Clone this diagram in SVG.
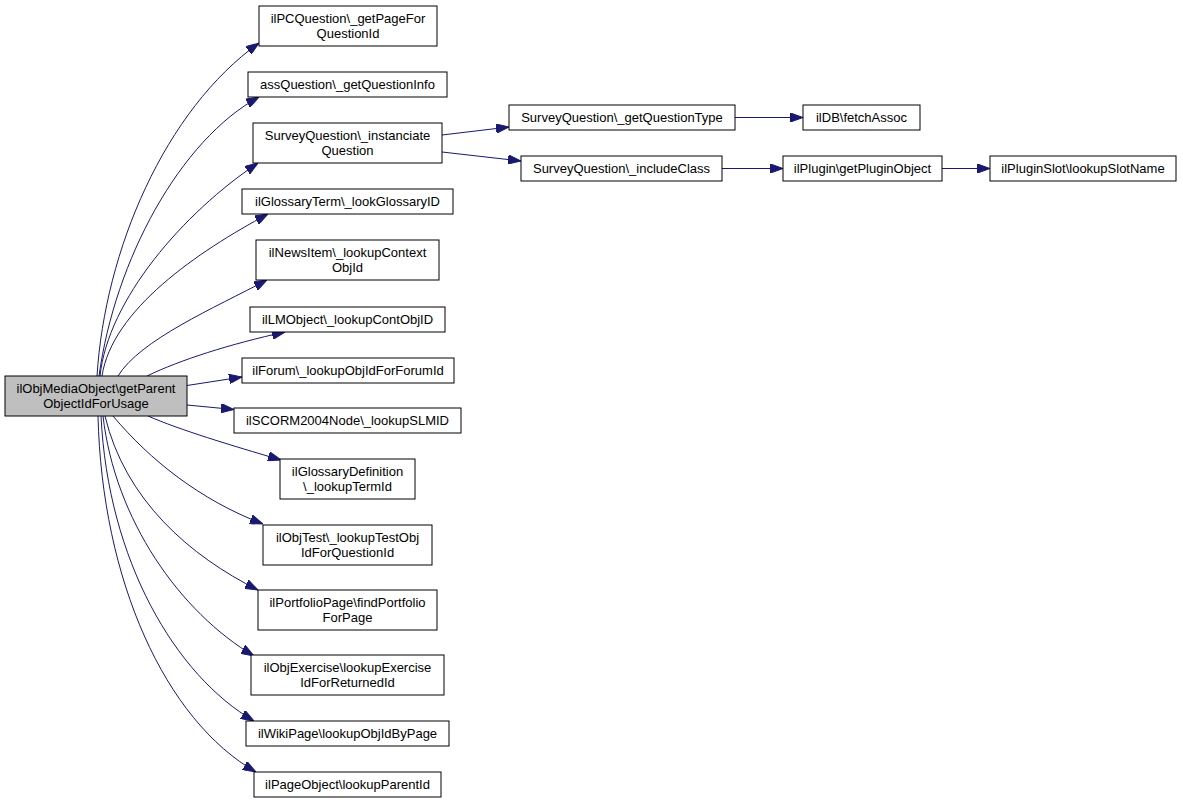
<svg xmlns="http://www.w3.org/2000/svg" width="1183" height="803" viewBox="0 0 1183 803">
<style>
  .n rect { fill: #ffffff; stroke: #000000; stroke-width: 1; }
  .n.main rect { fill: #bfbfbf; }
  .n text { font-family: "Liberation Sans", Arial, sans-serif; font-size: 13px; fill: #000000; text-anchor: middle; }
  .e path { fill: none; stroke: #191970; stroke-width: 1; marker-end: url(#arr); }
</style>
<defs>
  <marker id="arr" viewBox="0 0 13 9.4" refX="13" refY="4.7" markerWidth="13" markerHeight="9.4" markerUnits="userSpaceOnUse" orient="auto">
    <path d="M0,0 L13,4.7 L0,9.4 z" fill="#191970" stroke="#191970" stroke-width="1"/>
  </marker>
</defs>
<rect width="1183" height="803" fill="#ffffff"/>
<g id="edges" class="e">
  <path d="M97,376 C105,250 165,110 259,43"/>
  <path d="M99,376 C115,260 180,140 259,97"/>
  <path d="M100,376 C108,300 183,213 258,163"/>
  <path d="M102,376 C112,310 197.6,251.6 268,214"/>
  <path d="M118,376 C140,340 214,308 267,280"/>
  <path d="M147,376 C180,360 230,344 285,332"/>
  <path d="M187,385.5 L242,377"/>
  <path d="M187,405 L234,409.5"/>
  <path d="M148,416 C180,430 230,445 281,460"/>
  <path d="M113,416 C150,460 200,500 263,524"/>
  <path d="M105,416 C125,500 190,556 258,590"/>
  <path d="M103,416 C115,520 180,612 254,656"/>
  <path d="M101,416 C108,560 175,675 254,721"/>
  <path d="M98,416 C102,580 165,720 256,772"/>
  <path d="M442,135 L509,127"/>
  <path d="M442,152 L521,161"/>
  <path d="M735,117.5 L803,117.5"/>
  <path d="M722,168.5 L783,168.5"/>
  <path d="M942,168.5 L990,168.5"/>
</g>
<g id="node_main" class="n main">
  <rect x="5" y="376" width="182" height="40"/>
  <text x="96" y="393">ilObjMediaObject\getParent</text>
  <text x="96" y="408">ObjectIdForUsage</text>
</g>
<g id="node1" class="n">
  <rect x="259" y="6" width="178" height="40"/>
  <text x="348" y="23">ilPCQuestion\_getPageFor</text>
  <text x="348" y="38">QuestionId</text>
</g>
<g id="node2" class="n">
  <rect x="248" y="72" width="199" height="25"/>
  <text x="347.5" y="89">assQuestion\_getQuestionInfo</text>
</g>
<g id="node3" class="n">
  <rect x="253" y="123" width="189" height="40"/>
  <text x="347.5" y="140">SurveyQuestion\_instanciate</text>
  <text x="347.5" y="155">Question</text>
</g>
<g id="node4" class="n">
  <rect x="242" y="189" width="211" height="25"/>
  <text x="347.5" y="206">ilGlossaryTerm\_lookGlossaryID</text>
</g>
<g id="node5" class="n">
  <rect x="256" y="240" width="183" height="40"/>
  <text x="347.5" y="257">ilNewsItem\_lookupContext</text>
  <text x="347.5" y="272">ObjId</text>
</g>
<g id="node6" class="n">
  <rect x="250" y="307" width="195" height="25"/>
  <text x="347.5" y="324">ilLMObject\_lookupContObjID</text>
</g>
<g id="node7" class="n">
  <rect x="242" y="358" width="212" height="25"/>
  <text x="348" y="375">ilForum\_lookupObjIdForForumId</text>
</g>
<g id="node8" class="n">
  <rect x="234" y="408" width="227" height="25"/>
  <text x="347.5" y="425">ilSCORM2004Node\_lookupSLMID</text>
</g>
<g id="node9" class="n">
  <rect x="280" y="459" width="135" height="40"/>
  <text x="347.5" y="476">ilGlossaryDefinition</text>
  <text x="347.5" y="491">\_lookupTermId</text>
</g>
<g id="node10" class="n">
  <rect x="263" y="525" width="169" height="40"/>
  <text x="347.5" y="542">ilObjTest\_lookupTestObj</text>
  <text x="347.5" y="557">IdForQuestionId</text>
</g>
<g id="node11" class="n">
  <rect x="258" y="590" width="179" height="40"/>
  <text x="347.5" y="607">ilPortfolioPage\findPortfolio</text>
  <text x="347.5" y="622">ForPage</text>
</g>
<g id="node12" class="n">
  <rect x="251" y="655" width="193" height="40"/>
  <text x="347.5" y="672">ilObjExercise\lookupExercise</text>
  <text x="347.5" y="687">IdForReturnedId</text>
</g>
<g id="node13" class="n">
  <rect x="246" y="721" width="203" height="25"/>
  <text x="347.5" y="738">ilWikiPage\lookupObjIdByPage</text>
</g>
<g id="node14" class="n">
  <rect x="254" y="772" width="187" height="25"/>
  <text x="347.5" y="789">ilPageObject\lookupParentId</text>
</g>
<g id="node15" class="n">
  <rect x="509" y="105" width="226" height="25"/>
  <text x="622" y="122">SurveyQuestion\_getQuestionType</text>
</g>
<g id="node16" class="n">
  <rect x="803" y="105" width="117" height="25"/>
  <text x="861.5" y="122">ilDB\fetchAssoc</text>
</g>
<g id="node17" class="n">
  <rect x="521" y="156" width="201" height="25"/>
  <text x="621.5" y="173">SurveyQuestion\_includeClass</text>
</g>
<g id="node18" class="n">
  <rect x="783" y="156" width="159" height="25"/>
  <text x="862.5" y="173">ilPlugin\getPluginObject</text>
</g>
<g id="node19" class="n">
  <rect x="990" y="156" width="186" height="25"/>
  <text x="1083" y="173">ilPluginSlot\lookupSlotName</text>
</g>
</svg>
